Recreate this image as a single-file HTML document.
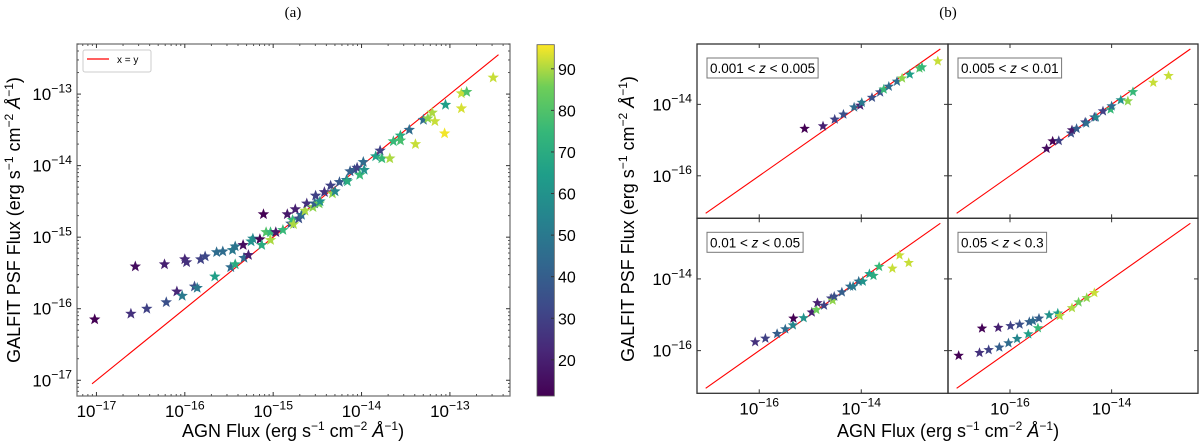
<!DOCTYPE html>
<html><head><meta charset="utf-8"><style>
body{margin:0;background:#fff;}
svg text{font-family:"Liberation Sans","DejaVu Sans",sans-serif;fill:#000;}
</style></head><body>
<svg id="fig" width="1200" height="443" xmlns="http://www.w3.org/2000/svg">
<defs><linearGradient id="vir" x1="0" y1="1" x2="0" y2="0">
<stop offset="0" stop-color="#440154"/><stop offset="0.13" stop-color="#482878"/><stop offset="0.25" stop-color="#3e4989"/><stop offset="0.38" stop-color="#31688e"/><stop offset="0.5" stop-color="#26828e"/><stop offset="0.63" stop-color="#1f9e89"/><stop offset="0.75" stop-color="#35b779"/><stop offset="0.88" stop-color="#6ece58"/><stop offset="1" stop-color="#fde725"/>
</linearGradient></defs>
<text x="293" y="17" font-size="15" text-anchor="middle" style="font-family:'Liberation Serif',serif">(a)</text>
<text x="948" y="17" font-size="15" text-anchor="middle" style="font-family:'Liberation Serif',serif">(b)</text>
<g id="layer"></g>
</svg>
<script>
// ---- data (log10 flux) ----
const mainAgn=[-17.02,-16.56,-16.23,-16.00,-15.98,-15.82,-15.77,-15.64,-15.57,-15.46,-15.43,-15.34,-15.23,-15.25,-15.15,-15.11,-15.08,-15.03,-14.97,-16.61,-16.43,-16.21,-16.09,-16.03,-15.89,-15.86,-15.66,-15.48,-15.43,-15.33,-15.28,-15.13,-15.03,-14.89,-14.84,-14.80,-14.78,-14.77,-14.75,-14.71,-14.68,-14.64,-14.62,-14.55,-14.52,-14.53,-14.48,-14.47,-14.42,-14.35,-14.33,-14.30,-14.25,-14.17,-14.16,-14.13,-14.08,-14.05,-14.02,-13.98,-13.97,-13.84,-13.79,-13.77,-13.68,-13.64,-13.56,-13.56,-13.46,-13.39,-13.30,-13.25,-13.20,-13.17,-13.06,-13.05,-12.87,-12.87,-12.81,-12.51];
const mainPsf=[-16.15,-15.41,-15.38,-15.31,-15.35,-15.31,-15.27,-15.21,-15.20,-15.18,-15.13,-15.11,-15.02,-15.06,-15.03,-14.68,-14.93,-14.93,-14.93,-16.07,-16.00,-15.91,-15.76,-15.82,-15.69,-15.71,-15.55,-15.42,-15.38,-15.29,-15.25,-15.11,-15.04,-14.90,-14.68,-14.81,-14.76,-14.82,-14.61,-14.74,-14.69,-14.63,-14.53,-14.58,-14.42,-14.53,-14.53,-14.50,-14.37,-14.28,-14.39,-14.36,-14.23,-14.20,-14.22,-14.08,-14.06,-14.03,-14.13,-13.95,-14.06,-13.87,-13.79,-13.90,-13.90,-13.66,-13.58,-13.65,-13.50,-13.70,-13.36,-13.34,-13.26,-13.38,-13.55,-13.15,-12.99,-13.20,-12.97,-12.77];
const mainCol=[10,15,20,22,25,30,32,45,45,50,48,15,55,60,12,10,80,75,18,25,30,35,22,50,35,50,65,45,70,45,20,70,90,75,18,40,75,90,20,35,45,90,25,88,30,40,85,60,25,30,88,55,38,50,70,40,40,30,75,45,60,65,30,75,90,75,70,78,45,92,45,88,90,92,95,65,92,93,80,92];
const p1Agn=[-15.11,-14.75,-14.52,-14.35,-14.14,-14.02,-13.99,-13.79,-13.63,-13.56,-13.46,-13.30,-13.20,-13.05,-12.86,-12.81,-12.50];
const p1Psf=[-14.68,-14.61,-14.42,-14.28,-14.08,-14.03,-13.95,-13.81,-13.66,-13.58,-13.50,-13.36,-13.27,-13.16,-12.99,-12.96,-12.79];
const p1Col=[10,20,30,35,45,20,50,35,35,75,45,45,88,65,80,75,92];
const p2Agn=[-15.28,-15.16,-15.04,-14.80,-14.78,-14.69,-14.52,-14.50,-14.34,-14.31,-14.17,-14.02,-14.00,-13.82,-13.68,-13.58,-13.18,-12.88];
const p2Psf=[-15.24,-15.03,-15.02,-14.81,-14.72,-14.68,-14.50,-14.53,-14.36,-14.36,-14.19,-14.14,-14.05,-13.88,-13.91,-13.65,-13.39,-13.20];
const p2Col=[15,12,30,35,18,40,30,45,30,55,30,75,45,60,88,75,92,92];
const p3Agn=[-16.08,-15.88,-15.65,-15.49,-15.34,-15.33,-15.13,-14.97,-14.88,-14.86,-14.73,-14.59,-14.56,-14.53,-14.38,-14.22,-14.16,-14.05,-13.97,-13.84,-13.76,-13.65,-13.39,-13.25,-13.07];
const p3Psf=[-15.76,-15.66,-15.53,-15.40,-15.29,-15.10,-15.09,-14.93,-14.86,-14.67,-14.74,-14.54,-14.60,-14.49,-14.37,-14.21,-14.21,-14.07,-14.07,-13.86,-13.91,-13.66,-13.71,-13.34,-13.55];
const p3Col=[25,30,40,45,55,10,60,20,85,20,30,30,88,35,40,45,50,45,60,65,70,75,92,92,92];
const p4Agn=[-17.01,-16.60,-16.42,-16.21,-16.03,-15.86,-15.64,-15.45,-16.55,-16.23,-15.99,-15.81,-15.62,-15.55,-15.43,-15.23,-15.06,-15.02,-14.78,-14.65,-14.49,-14.34];
const p4Psf=[-16.14,-16.06,-15.98,-15.91,-15.79,-15.67,-15.54,-15.37,-15.38,-15.36,-15.31,-15.27,-15.20,-15.17,-15.10,-15.01,-14.96,-15.03,-14.81,-14.65,-14.53,-14.39];
const p4Col=[10,25,30,40,45,55,65,75,12,20,30,35,40,45,40,60,65,90,90,85,88,92];
const cbTicks=[20,30,40,50,60,70,80,90];
const subTicks=[-16,-14];
const panelLabels=["0.001 < z < 0.005","0.005 < z < 0.01","0.01 < z < 0.05","0.05 < z < 0.3"];

const NS="http://www.w3.org/2000/svg";
const layer=document.getElementById('layer');
function mk(tag,attrs,parent){const e=document.createElementNS(NS,tag);for(const k in attrs)e.setAttribute(k,attrs[k]);(parent||layer).appendChild(e);return e;}
const stops=[[0,[68,1,84]],[0.13,[72,40,120]],[0.25,[62,73,137]],[0.38,[49,104,142]],[0.5,[38,130,142]],[0.63,[31,158,137]],[0.75,[53,183,121]],[0.88,[110,206,88]],[1,[253,231,37]]];
const CMIN=11.3,CMAX=95.8;
function vir(v){let t=Math.max(0,Math.min(1,(v-CMIN)/(CMAX-CMIN)));for(let i=1;i<stops.length;i++){if(t<=stops[i][0]){const a=stops[i-1],b=stops[i];const f=(t-a[0])/(b[0]-a[0]);return 'rgb('+a[1].map((c,j)=>Math.round(c+(b[1][j]-c)*f)).join(',')+')';}}return 'rgb(253,231,37)';}
function starPts(cx,cy,r){let p=[];for(let i=0;i<10;i++){const a=-Math.PI/2+i*Math.PI/5;const rr=i%2?r*0.42:r;p.push((cx+rr*Math.cos(a)).toFixed(1)+','+(cy+rr*Math.sin(a)).toFixed(1));}return p.join(' ');}
function sup(t,base,exp,x,y,fs,anchor){const e=mk('text',{x:x,y:y,'font-size':fs,'text-anchor':anchor||'middle'},t);e.innerHTML=base+'<tspan dy="-'+(fs*0.45)+'" font-size="'+(fs*0.72)+'">'+exp+'</tspan>';return e;}

function axes(name,L,T,R,B,xmin,xmax,ymin,ymax,agn,psf,col,r,opts){
  const g=mk('g',{});
  
  
  const sx=v=>L+(v-xmin)/(xmax-xmin)*(R-L);
  const sy=v=>B-(v-ymin)/(ymax-ymin)*(B-T);
  const line=mk('line',{x1:sx(-17.05),y1:sy(-17.05),x2:sx(-12.45),y2:sy(-12.45),stroke:'#f00','stroke-width':1.1},g);
  
  
  for(let i=0;i<agn.length;i++){
    const s=mk('polygon',{points:starPts(sx(agn[i]),sy(psf[i]),r),fill:vir(col[i])},g);
    
    
  }
  const fr=mk('rect',{x:L,y:T,width:R-L,height:B-T,fill:'none',stroke:opts.frame,'stroke-width':1.3},g);
  
  
  opts.ticks.forEach(d=>{
    const x=sx(d);mk('line',{x1:x,y1:B,x2:x,y2:B-4,stroke:'#333'},g);mk('line',{x1:x,y1:T,x2:x,y2:T+4,stroke:'#333'},g);
    if(opts.xlab){const t=sup(g,'10','−'+(-d),x,B+21,opts.fs);}
  });
  opts.ticks.forEach(d=>{
    const y=sy(d);mk('line',{x1:L,y1:y,x2:L+4,y2:y,stroke:'#333'},g);mk('line',{x1:R,y1:y,x2:R-4,y2:y,stroke:'#333'},g);
    if(opts.ylab){const t=sup(g,'10','−'+(-d),L-5,y+6,opts.fs,'end');}
  });
  if(opts.minor){for(let d=Math.floor(xmin);d<xmax;d++)for(let k=2;k<10;k++){const v=d+Math.log10(k);if(v>xmin&&v<xmax){const x=sx(v);mk('line',{x1:x,y1:B,x2:x,y2:B-2,stroke:'#555'},g);mk('line',{x1:x,y1:T,x2:x,y2:T+2,stroke:'#555'},g);}}
   for(let d=Math.floor(ymin);d<ymax;d++)for(let k=2;k<10;k++){const v=d+Math.log10(k);if(v>ymin&&v<ymax){const y=sy(v);mk('line',{x1:L,y1:y,x2:L+2,y2:y,stroke:'#555'},g);mk('line',{x1:R,y1:y,x2:R-2,y2:y,stroke:'#555'},g);}}}
  return g;
}
// panel a
axes('main-scatter',77,44,510,396,-17.22,-12.32,-17.22,-12.3,mainAgn,mainPsf,mainCol,6,{frame:'#777',ticks:[-17,-16,-15,-14,-13],xlab:true,ylab:true,fs:17,minor:true});
// legend
const lg=mk('g',{});


mk('rect',{x:83,y:50,width:68,height:22,rx:2,fill:'#fff',stroke:'#ccc'},lg);
mk('line',{x1:87,y1:59,x2:109,y2:59,stroke:'#f00','stroke-width':1.3},lg);
const lt=mk('text',{x:117,y:63,'font-size':10},lg);lt.textContent='x = y';
// colorbar
const cb=mk('rect',{x:537,y:44.7,width:17.3,height:351.3,fill:'url(#vir)',stroke:'#555','stroke-width':0.8});


cbTicks.forEach(v=>{const y=396-(v-CMIN)/(CMAX-CMIN)*351.3;mk('line',{x1:554,y1:y,x2:551,y2:y,stroke:'#333'});const t=mk('text',{x:558,y:y+6,'font-size':16});t.textContent=v;});
// panel b
const PX=[697,948,1198],PY=[44,218.3,393.3];
const pdata=[[p1Agn,p1Psf,p1Col],[p2Agn,p2Psf,p2Col],[p3Agn,p3Psf,p3Col],[p4Agn,p4Psf,p4Col]];
for(let i=0;i<4;i++){
  const c=i%2,rw=Math.floor(i/2);
  const L=PX[c],R=PX[c+1],T=PY[rw],B=PY[rw+1];
  axes('subplot-'+(i+1),L,T,R,B,-17.22,-12.3,-17.19,-12.31,pdata[i][0],pdata[i][1],pdata[i][2],5.5,{frame:'#333',ticks:subTicks,xlab:rw==1,ylab:c==0,fs:17,minor:false});
  const parts=panelLabels[i].split('z');
  const tt=mk('text',{x:L+13,y:T+29,'font-size':13.5});
  tt.innerHTML=parts[0]+'<tspan font-style="italic">z</tspan>'+parts[1];
  
  
  const w=tt.getComputedTextLength();
  const bx=mk('rect',{x:L+10,y:T+14,width:w+6,height:20,fill:'none',stroke:'#777'});
  
  
}
// axis titles
function title(x,y,rot,name){const t=mk('text',{x:x,y:y,'font-size':18,'text-anchor':'middle',transform:rot?'rotate(-90 '+x+' '+y+')':''});
t.innerHTML=(rot?'GALFIT PSF Flux':'AGN Flux')+' (erg s<tspan dy="-7" font-size="12">−1</tspan><tspan dy="7"> cm</tspan><tspan dy="-7" font-size="12">−2</tspan><tspan dy="7"> </tspan><tspan font-style="italic">Å</tspan><tspan dy="-7" font-size="12">−1</tspan><tspan dy="7">)</tspan>';
}
title(293,437,false,'x-axis-title-a');
title(20,220,true,'y-axis-title-a');
title(948,437,false,'x-axis-title-b');
title(634,219,true,'y-axis-title-b');
</script>
</body></html>
